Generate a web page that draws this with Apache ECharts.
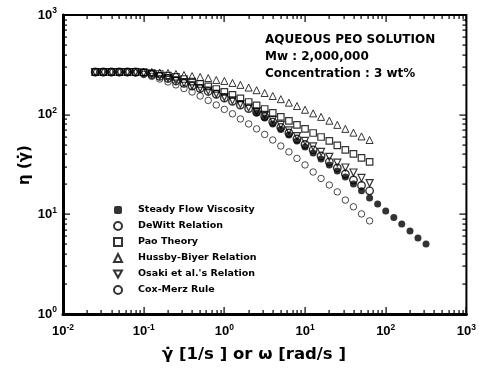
<!DOCTYPE html>
<html>
<head>
<meta charset="utf-8">
<script src="https://cdn.jsdelivr.net/npm/echarts@6/dist/echarts.min.js"></script>
<style>
  html, body { margin: 0; padding: 0; background: #fff; }
  #chart { width: 479px; height: 370px; background: #fff; }
</style>
</head>
<body>
<div id="chart"></div>
<script>
// shear rate / frequency grid of the dynamic data (10 pts per decade)
const rateX = [0.0251, 0.0316, 0.0398, 0.0501, 0.0631, 0.0794, 0.1, 0.126, 0.158, 0.2,
  0.251, 0.316, 0.398, 0.501, 0.631, 0.794, 1, 1.26, 1.58, 2.0,
  2.51, 3.16, 3.98, 5.01, 6.31, 7.94, 10, 12.6, 15.8, 20,
  25.1, 31.6, 39.8, 50.1, 63.1];

// steady flow measurements
const steadyX = [2.51, 3.16, 3.98, 5.01, 6.31, 7.94, 10, 12.6, 15.8, 20, 25.1,
  31.6, 39.8, 50.1, 63.1, 79.4, 100, 126, 158, 200, 251, 316];
const steadyEta = [104, 92.7, 80.7, 71.1, 62.5, 54.5, 47.4, 41.3, 36.0, 31.3, 27.2,
  23.7, 20.2, 17.2, 14.6, 12.7, 10.8, 9.3, 8.0, 6.8, 5.8, 5.05];

const dewittEta = [268, 268, 268, 268, 268, 268, 262, 253, 242, 231,
  218, 206, 194, 183, 171, 160, 147, 136, 125, 115,
  106, 95.9, 84.5, 74.5, 65.5, 57.0, 50.2, 44.3, 38.5, 33.6,
  29.2, 25.4, 22.1, 19.5, 17.2];

const paoEta = [268, 268, 268, 268, 268, 268, 268, 262, 256, 247,
  239, 228, 215, 203, 192, 181, 169, 158, 146, 134,
  124, 114, 104, 95, 86.5, 79, 72, 65.5, 59.7, 54.5,
  49.1, 44.3, 40.4, 36.8, 33.6];

const husseyEta = [268, 268, 268, 268, 268, 268, 268, 268, 265, 262,
  256, 250, 244, 239, 233, 223, 218, 208, 199, 187,
  176, 165, 154, 143, 132, 122, 112, 103, 95, 87,
  79, 72, 66, 60.5, 55.7];

const osakiEta = [268, 268, 268, 268, 268, 268, 262, 256, 244, 233,
  221, 208, 197, 185, 174, 162, 150, 139, 128, 118,
  108, 99.3, 88.5, 79, 69.5, 61, 54.5, 48.0, 42.3, 37.7,
  33.0, 29.5, 26.3, 23.2, 20.6];

const coxMerzEta = [268, 268, 268, 268, 268, 262, 253, 242, 228, 213,
  199, 183, 169, 154, 139, 125, 113, 102, 90.6, 80.7,
  72, 63.3, 55.7, 48.5, 42.3, 36.4, 31.3, 26.6, 22.9, 19.7,
  16.8, 13.9, 11.9, 10.1, 8.6];

const seriesNames = ['Steady Flow Viscosity', 'DeWitt Relation', 'Pao Theory',
  'Hussby-Biyer Relation', "Osaki et al.'s Relation", 'Cox-Merz Rule'];

const xDecades = [0.01, 0.1, 1, 10, 100, 1000];
const yDecades = [1, 10, 100, 1000];
const minorMult = [2, 3, 4, 5, 6, 7, 8, 9];

const fam = '"Liberation Sans", Arial, sans-serif';
const heavy = '"DejaVu Sans", "Liberation Sans", sans-serif';

function zip(xs, ys) {
  return ys.map((y, i) => [xs[i], y]);
}
// minor tick values between decades (2..9 x 10^n)
function minorTicks(decades) {
  const out = [];
  decades.slice(0, -1).forEach((d) => minorMult.forEach((m) => out.push(+(d * m).toPrecision(3))));
  return out;
}
function powLabel(v) {
  return '{m|10}{e|' + Math.round(Math.log10(v)) + '}';
}
const powRich = {
  m: { fontSize: 13, fontWeight: 'bold', fontFamily: fam, color: '#000' },
  e: { fontSize: 8.5, fontWeight: 'bold', fontFamily: fam, color: '#000', padding: [0, 0, 8, 0] },
};

const xMin = xDecades[0], xMax = xDecades[xDecades.length - 1];
const yMin = yDecades[0], yMax = yDecades[yDecades.length - 1];

const chart = echarts.init(document.getElementById('chart'));

const openStyle = (w) => ({ color: 'rgba(0,0,0,0)', borderColor: '#000', borderWidth: w });

chart.setOption({
  animation: false,
  grid: { left: 63, right: 12, top: 15, bottom: 56, show: true, borderColor: '#000', borderWidth: 2, backgroundColor: 'rgba(0,0,0,0)' },
  xAxis: {
    type: 'log', logBase: 10, min: xMin, max: xMax, position: 'bottom',
    axisLine: { show: true, onZero: false, lineStyle: { color: '#000', width: 3 } },
    axisTick: { show: false },
    axisLabel: { show: true, formatter: powLabel, rich: powRich, margin: 9, customValues: xDecades },
    splitLine: { show: false },
  },
  yAxis: {
    type: 'log', logBase: 10, min: yMin, max: yMax, position: 'left',
    axisLine: { show: true, onZero: false, lineStyle: { color: '#000', width: 3 } },
    axisTick: { show: false },
    axisLabel: { show: true, formatter: powLabel, rich: powRich, margin: 6, customValues: yDecades },
    splitLine: { show: false },
  },
  legend: {
    orient: 'vertical', left: 108, top: 199,
    itemWidth: 8, itemHeight: 8, itemGap: 4,
    selectedMode: false,
    textStyle: { fontSize: 9.5, fontWeight: 'bold', fontFamily: heavy, color: '#000', lineHeight: 12, padding: [0, 0, 0, 11] },
    data: [
      { name: seriesNames[0], icon: 'roundRect' },
      { name: seriesNames[1], icon: 'circle' },
      { name: seriesNames[2], icon: 'rect' },
      { name: seriesNames[3], icon: 'triangle' },
      { name: seriesNames[4], icon: 'path://M0,0 L10,0 L5,9 Z' },
      { name: seriesNames[5], icon: 'circle' },
    ],
  },
  series: [
    { name: seriesNames[0], type: 'scatter', symbol: 'circle', symbolSize: 7,
      itemStyle: { color: '#000' }, data: zip(steadyX, steadyEta) },
    { name: seriesNames[1], type: 'scatter', symbol: 'circle', symbolSize: 7.5,
      itemStyle: openStyle(1.4), data: zip(rateX, dewittEta) },
    { name: seriesNames[2], type: 'scatter', symbol: 'rect', symbolSize: 6.5,
      itemStyle: openStyle(1.2), data: zip(rateX, paoEta) },
    { name: seriesNames[3], type: 'scatter', symbol: 'triangle', symbolSize: 7,
      itemStyle: openStyle(1), data: zip(rateX, husseyEta) },
    { name: seriesNames[4], type: 'scatter', symbol: 'triangle', symbolRotate: 180, symbolSize: 7,
      itemStyle: openStyle(1.2), data: zip(rateX, osakiEta) },
    { name: seriesNames[5], type: 'scatter', symbol: 'circle', symbolSize: 6.5,
      itemStyle: openStyle(0.9), data: zip(rateX, coxMerzEta) },
  ],
});

// inward tick marks on all four sides, placed through the grid's own log scales
const toPx = (x, y) => chart.convertToPixel({ gridIndex: 0 }, [x, y]);
const tickEls = [];
// thin filled rects instead of strokes so the marks stay crisp
function xTick(v, len) {
  const b = toPx(v, yMin), t = toPx(v, yMax);
  const x = Math.round(b[0]) - 0.5;
  tickEls.push({ type: 'rect', z: 100, silent: true, shape: { x: x, y: b[1] - len, width: 1.2, height: len }, style: { fill: '#000' } });
  tickEls.push({ type: 'rect', z: 100, silent: true, shape: { x: x, y: t[1], width: 1.2, height: len }, style: { fill: '#000' } });
}
function yTick(v, len) {
  const l = toPx(xMin, v), r = toPx(xMax, v);
  const y = Math.round(l[1]) - 0.5;
  tickEls.push({ type: 'rect', z: 100, silent: true, shape: { x: l[0], y: y, width: len, height: 1.2 }, style: { fill: '#000' } });
  tickEls.push({ type: 'rect', z: 100, silent: true, shape: { x: r[0] - len, y: y, width: len, height: 1.2 }, style: { fill: '#000' } });
}
xDecades.forEach((v) => xTick(v, 7));
minorTicks(xDecades).forEach((v) => xTick(v, 4));
yDecades.forEach((v) => yTick(v, 7));
minorTicks(yDecades).forEach((v) => yTick(v, 4));

chart.setOption({
  graphic: [
    { type: 'text', x: 265, y: 40, style: { text: 'AQUEOUS PEO SOLUTION', font: 'bold 12px ' + heavy, fill: '#000', verticalAlign: 'middle' } },
    { type: 'text', x: 265, y: 57, style: { text: 'Mw : 2,000,000', font: 'bold 12px ' + heavy, fill: '#000', verticalAlign: 'middle' } },
    { type: 'text', x: 265, y: 74, style: { text: 'Concentration : 3 wt%', font: 'bold 12px ' + heavy, fill: '#000', verticalAlign: 'middle' } },
    { type: 'text', x: 254, y: 355, style: { text: 'γ\u0307 [1/s ] or ω [rad/s ]', font: 'bold 16.5px ' + heavy, fill: '#000', align: 'center', verticalAlign: 'middle' } },
    { type: 'text', x: 25, y: 165, rotation: Math.PI / 2, style: { text: 'η (γ\u0307)', font: 'bold 15px ' + heavy, fill: '#000', align: 'center', verticalAlign: 'middle' } },
  ].concat(tickEls),
});
</script>
</body>
</html>
